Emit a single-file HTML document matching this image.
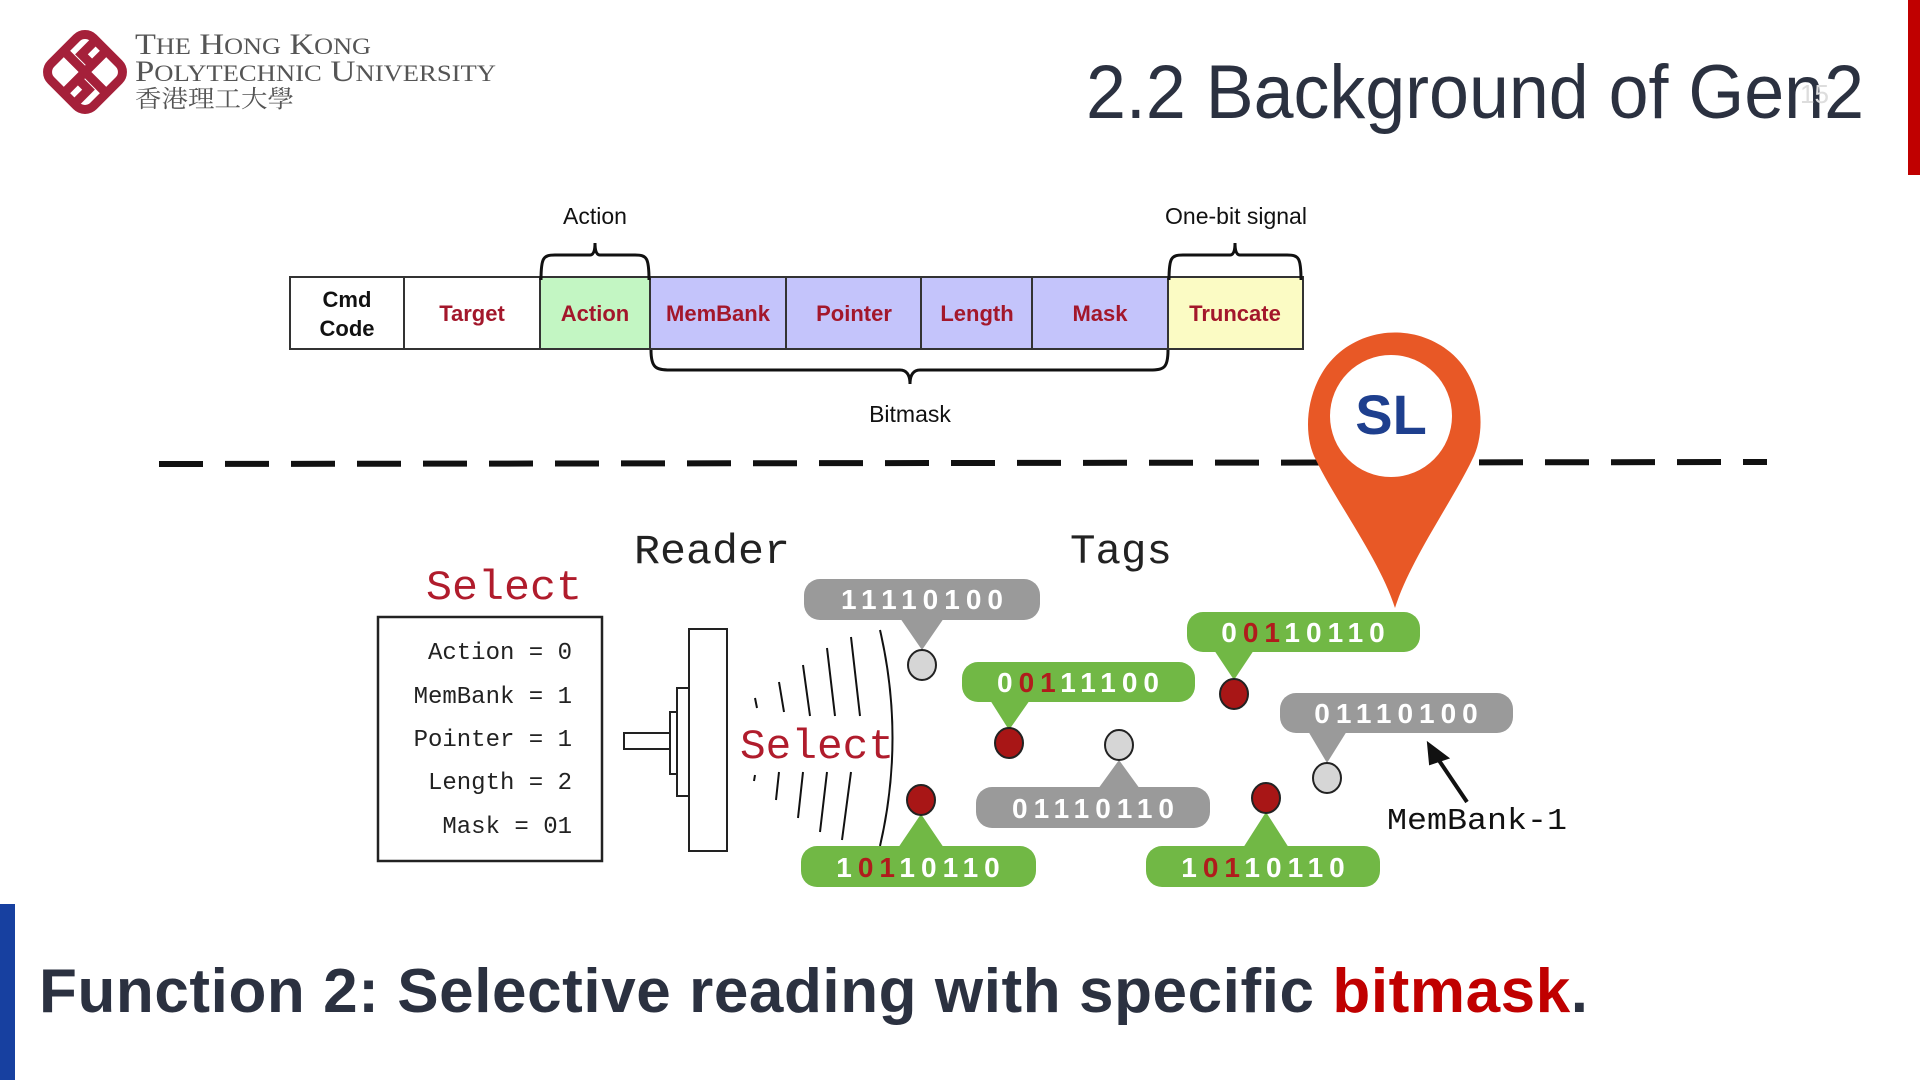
<!DOCTYPE html>
<html><head><meta charset="utf-8"><style>
html,body{margin:0;padding:0;background:#fff;}
svg{display:block;}
</style></head><body>
<svg width="1920" height="1080" viewBox="0 0 1920 1080" xmlns="http://www.w3.org/2000/svg">
<rect width="1920" height="1080" fill="#fff"/>
<g transform="translate(85,72) rotate(45)" fill="none" stroke="#a5203a" stroke-width="9">
  <rect x="-30" y="-30" width="60" height="60" rx="12"/>
  <path d="M-30 0 H30 M0 -30 V30 M-15 -30 V-10 H-3 M15 30 V10 H3"/>
</g>
<g font-family="Liberation Serif, serif" fill="#555">
  <text x="135" y="54" font-size="30" textLength="236" lengthAdjust="spacingAndGlyphs">T<tspan font-size="23">HE</tspan> H<tspan font-size="23">ONG</tspan> K<tspan font-size="23">ONG</tspan></text>
  <text x="135" y="81" font-size="30" textLength="361" lengthAdjust="spacingAndGlyphs">P<tspan font-size="23">OLYTECHNIC</tspan> U<tspan font-size="23">NIVERSITY</tspan></text>
  <text x="135" y="107" font-size="24" font-family="Liberation Serif, 'Noto Serif CJK SC', serif" textLength="159" lengthAdjust="spacingAndGlyphs">香港理工大學</text>
</g>
<text x="1086" y="118" font-family="Liberation Sans, sans-serif" font-size="76" fill="#2b3140" textLength="778" lengthAdjust="spacingAndGlyphs">2.2 Background of Gen2</text>
<text x="1800" y="103" font-family="Liberation Sans, sans-serif" font-size="26" fill="#ddd">15</text>
<rect x="1908" y="0" width="12" height="175" fill="#c00000"/>

<g font-family="Liberation Sans, sans-serif" font-size="22" font-weight="bold" text-anchor="middle">
  <rect x="290" y="277" width="114" height="72" fill="#fff"/>
  <rect x="404" y="277" width="136" height="72" fill="#fff"/>
  <rect x="540" y="277" width="110" height="72" fill="#c3f6c3"/>
  <rect x="650" y="277" width="518" height="72" fill="#c4c4fb"/>
  <rect x="1168" y="277" width="135" height="72" fill="#fbfbc4"/>
  <g stroke="#333" stroke-width="2" fill="none">
    <rect x="290" y="277" width="1013" height="72"/>
    <path d="M404 277V349M540 277V349M650 277V349M786 277V349M921 277V349M1032 277V349M1168 277V349"/>
  </g>
  <text x="347" y="307" fill="#111">Cmd</text>
  <text x="347" y="336" fill="#111">Code</text>
  <g fill="#a3172b">
    <text x="472" y="321">Target</text>
    <text x="595" y="321">Action</text>
    <text x="718" y="321">MemBank</text>
    <text x="854" y="321">Pointer</text>
    <text x="977" y="321">Length</text>
    <text x="1100" y="321">Mask</text>
    <text x="1235" y="321">Truncate</text>
  </g>
</g>
<g stroke="#111" stroke-width="3" fill="none">
  <path d="M541 280 C541 258 543 255 555 255 H590 C593 255 595 252 595 243 C595 252 597 255 600 255 H635 C647 255 649 258 649 280"/>
  <path d="M1169 280 C1169 258 1171 255 1183 255 H1230 C1233 255 1235 252 1235 243 C1235 252 1237 255 1240 255 H1287 C1299 255 1301 258 1301 280"/>
  <path d="M651 350 C651 368 656 370 670 370 H900 C906 370 910 374 910 384 C910 374 914 370 920 370 H1150 C1164 370 1168 368 1168 350"/>
</g>
<g font-family="Liberation Sans, sans-serif" font-size="23" fill="#111" text-anchor="middle">
  <text x="595" y="224">Action</text>
  <text x="1236" y="224">One-bit signal</text>
  <text x="910" y="422">Bitmask</text>
</g>
<line x1="159" y1="464" x2="1767" y2="462" stroke="#111" stroke-width="6" stroke-dasharray="44 22"/>

<path d="M1395 608 C1380 560 1335 500 1316 460 C1300 430 1308 378 1340 352 C1372 326 1418 326 1450 352 C1482 378 1488 430 1472 460 C1453 500 1410 560 1395 608 Z" fill="#e85826"/>
<circle cx="1391" cy="416" r="61" fill="#fff"/>
<text x="1391" y="434" font-family="Liberation Sans, sans-serif" font-size="56" font-weight="bold" fill="#1e3f8e" text-anchor="middle">SL</text>

<g font-family="Liberation Mono, monospace" font-size="42">
  <text x="634" y="563" fill="#222" textLength="156" lengthAdjust="spacingAndGlyphs">Reader</text>
  <text x="1070" y="563" fill="#222" textLength="102" lengthAdjust="spacingAndGlyphs">Tags</text>
  <text x="426" y="599" fill="#b01c2c" textLength="156" lengthAdjust="spacingAndGlyphs">Select</text>
  <text x="740" y="758" fill="#b01c2c" textLength="154" lengthAdjust="spacingAndGlyphs">Select</text>
  <text x="1387" y="829" font-size="31" fill="#111" textLength="180" lengthAdjust="spacingAndGlyphs">MemBank-1</text>
</g>
<rect x="378" y="617" width="224" height="244" fill="none" stroke="#222" stroke-width="2.5"/>
<g font-family="Liberation Mono, monospace" font-size="24" fill="#222" text-anchor="end">
  <text x="572" y="659">Action = 0</text>
  <text x="572" y="703">MemBank = 1</text>
  <text x="572" y="746">Pointer = 1</text>
  <text x="572" y="789">Length = 2</text>
  <text x="572" y="833">Mask = 01</text>
</g>
<g fill="#fff" stroke="#222" stroke-width="2">
  <rect x="624" y="733" width="46" height="16"/>
  <rect x="670" y="712" width="7" height="62"/>
  <rect x="677" y="688" width="12" height="108"/>
  <rect x="689" y="629" width="38" height="222"/>
</g>
<g stroke="#111" stroke-width="2" fill="none">
  <path d="M880 630 Q905 738 880 846"/>
  <path d="M755 698 L757 708 M779 682 L784 712 M803 665 L810 716 M827 648 L835 716 M851 637 L860 716"/>
  <path d="M755 775 L754 781 M779 772 L776 800 M803 772 L798 818 M827 772 L820 832 M851 772 L842 840"/>
</g>

<g font-family="Liberation Sans, sans-serif" font-size="28" font-weight="bold" fill="#fff" text-anchor="middle" letter-spacing="6">
  <rect x="804" y="579" width="236" height="41" rx="16" fill="#9a9a9a"/>
  <path d="M900 618 L922 650 L944 618Z" fill="#9a9a9a"/>
  <text x="925" y="609">11110100</text>
  <rect x="962" y="662" width="233" height="40" rx="16" fill="#71b845"/>
  <path d="M990 700 L1009 730 L1030 700Z" fill="#71b845"/>
  <text x="1081" y="692">0<tspan fill="#b01c1c">01</tspan>11100</text>
  <rect x="1187" y="612" width="233" height="40" rx="16" fill="#71b845"/>
  <path d="M1214 650 L1234 680 L1254 650Z" fill="#71b845"/>
  <text x="1306" y="642">0<tspan fill="#b01c1c">01</tspan>10110</text>
  <rect x="1280" y="693" width="233" height="40" rx="16" fill="#9a9a9a"/>
  <path d="M1308 731 L1327 763 L1347 731Z" fill="#9a9a9a"/>
  <text x="1399" y="723">01110100</text>
  <rect x="976" y="787" width="234" height="41" rx="16" fill="#9a9a9a"/>
  <path d="M1098 789 L1119 760 L1140 789Z" fill="#9a9a9a"/>
  <text x="1096" y="818">01110110</text>
  <rect x="801" y="846" width="235" height="41" rx="16" fill="#71b845"/>
  <path d="M898 848 L921 814 L944 848Z" fill="#71b845"/>
  <text x="921" y="877">1<tspan fill="#b01c1c">01</tspan>10110</text>
  <rect x="1146" y="846" width="234" height="41" rx="16" fill="#71b845"/>
  <path d="M1243 848 L1266 812 L1289 848Z" fill="#71b845"/>
  <text x="1266" y="877">1<tspan fill="#b01c1c">01</tspan>10110</text>
</g>
<g stroke="#222" stroke-width="2">
  <ellipse cx="922" cy="665" rx="14" ry="15" fill="#d6d6d6"/>
  <ellipse cx="1009" cy="743" rx="14" ry="15" fill="#a81616"/>
  <ellipse cx="1234" cy="694" rx="14" ry="15" fill="#a81616"/>
  <ellipse cx="1327" cy="778" rx="14" ry="15" fill="#d6d6d6"/>
  <ellipse cx="1119" cy="745" rx="14" ry="15" fill="#d6d6d6"/>
  <ellipse cx="921" cy="800" rx="14" ry="15" fill="#a81616"/>
  <ellipse cx="1266" cy="798" rx="14" ry="15" fill="#a81616"/>
</g>
<line x1="1467" y1="802" x2="1436" y2="756" stroke="#111" stroke-width="4"/>
<path d="M1428 743 L1448 758 L1430 764 Z" fill="#111" stroke="#111" stroke-width="2"/>

<rect x="0" y="904" width="15" height="176" fill="#1740a0"/>
<text x="39" y="1012" font-family="Liberation Sans, sans-serif" font-size="62" font-weight="bold" fill="#2b3140" textLength="1549" lengthAdjust="spacing">Function 2: Selective reading with specific <tspan fill="#c00000">bitmask</tspan>.</text>
</svg>
</body></html>
